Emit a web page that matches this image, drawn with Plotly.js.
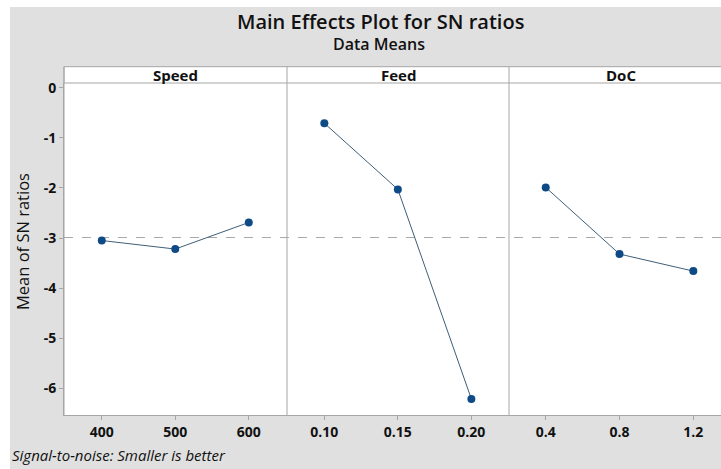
<!DOCTYPE html>
<html>
<head>
<meta charset="utf-8">
<script src="https://cdn.plot.ly/plotly-3.0.1.min.js"></script>
<style>html,body{margin:0;padding:0;background:#fff;overflow:hidden;}</style>
</head>
<body>
<div id="chart" style="width:721px;height:469px;"></div>
<script>
// Data
const factors = ['Speed', 'Feed', 'DoC'];
const speedLevels = [400, 500, 600];
const speedSN = [-3.05, -3.22, -2.69];
const feedLevels = [0.10, 0.15, 0.20];
const feedSN = [-0.71, -2.03, -6.21];
const docLevels = [0.4, 0.8, 1.2];
const docSN = [-1.99, -3.32, -3.66];
const speedTicks = ['400', '500', '600'];
const feedTicks = ['0.10', '0.15', '0.20'];
const docTicks = ['0.4', '0.8', '1.2'];
const yTicks = [0, -1, -2, -3, -4, -5, -6];
const grandMean = -2.99;

const FONT = '"Open Sans", "Noto Sans", sans-serif';
const lineColor = '#3f5f78';
const markerColor = '#0d4a86';
const frameColor = '#a6a6a6';

function trace(x, y, ax) {
  return {
    x: x, y: y, xaxis: ax, yaxis: 'y', type: 'scatter', mode: 'lines+markers',
    line: {color: lineColor, width: 1},
    marker: {color: markerColor, size: 8},
    hoverinfo: 'x+y', showlegend: false
  };
}

const data = [
  trace(speedLevels, speedSN, 'x'),
  trace(feedLevels, feedSN, 'x2'),
  trace(docLevels, docSN, 'x3')
];

const W = 657, H = 332;
const d1 = [0, 223 / W], d2 = [223 / W, 445 / W], d3 = [445 / W, 1];
const stripTop = 1 + 16.3 / H;

function xax(domain, range, vals, texts) {
  return {
    domain: domain, range: range, anchor: 'y',
    tickmode: 'array', tickvals: vals, ticktext: texts,
    ticks: 'outside', ticklen: 4, tickcolor: frameColor, tickwidth: 1,
    showgrid: false, zeroline: false, showline: true, linecolor: frameColor, linewidth: 1,
    tickfont: {family: FONT, size: 14, color: '#111', weight: 'bold'},
    fixedrange: true
  };
}

const layout = {
  width: 721, height: 469,
  margin: {l: 64, r: 0, t: 83, b: 54},
  paper_bgcolor: '#e0e0e0',
  plot_bgcolor: '#ffffff',
  font: {family: FONT, color: '#111'},
  title: {
    text: 'Main Effects Plot for SN ratios',
    font: {family: FONT, size: 20, color: '#111', weight: 600},
    x: 0.528, xanchor: 'center', y: 0.953, yanchor: 'middle'
  },
  xaxis: xax(d1, [348.6, 652], speedLevels, speedTicks),
  xaxis2: xax(d2, [0.0746, 0.2256], feedLevels, feedTicks),
  xaxis3: xax(d3, [0.201, 1.35], docLevels, docTicks),
  yaxis: {
    range: [-6.53, 0.092], tickmode: 'array', tickvals: yTicks,
    ticktext: yTicks.map(String),
    ticks: 'outside', ticklen: 4, tickcolor: frameColor,
    showgrid: false, zeroline: false, showline: true, linecolor: frameColor,
    tickfont: {family: FONT, size: 14, color: '#111', weight: 'bold'},
    fixedrange: true
  },
  shapes: [
    // white outer border (top and left)
    {type: 'rect', xref: 'paper', yref: 'paper', x0: -64 / W, x1: 1.1, y0: 1 + 76 / H, y1: 1 + 90 / H,
      fillcolor: '#ffffff', line: {width: 0}, layer: 'below'},
    {type: 'rect', xref: 'paper', yref: 'paper', x0: -64 / W, x1: -54 / W, y0: -60 / H, y1: 1 + 90 / H,
      fillcolor: '#ffffff', line: {width: 0}, layer: 'below'},
    // strip background
    {type: 'rect', xref: 'paper', yref: 'paper', x0: 0, x1: 1.02, y0: 1, y1: stripTop,
      fillcolor: '#ffffff', line: {color: frameColor, width: 1}},
    // panel separators
    {type: 'line', xref: 'paper', yref: 'paper', x0: d2[0], x1: d2[0], y0: 0, y1: stripTop,
      line: {color: frameColor, width: 1}},
    {type: 'line', xref: 'paper', yref: 'paper', x0: d3[0], x1: d3[0], y0: 0, y1: stripTop,
      line: {color: frameColor, width: 1}},
    {type: 'line', xref: 'paper', yref: 'paper', x0: 0, x1: 0, y0: 0, y1: stripTop,
      line: {color: frameColor, width: 1}},
    // grand mean reference line
    {type: 'line', xref: 'paper', yref: 'y', x0: 0, x1: 1, y0: grandMean, y1: grandMean,
      line: {color: '#a8a8a8', width: 1, dash: 'dash'}, layer: 'below'}
  ],
  annotations: [
    {text: 'Data Means', xref: 'paper', yref: 'paper', x: (379 - 64) / W, y: 1 + 39 / H,
      xanchor: 'center', yanchor: 'middle', showarrow: false,
      font: {family: FONT, size: 16, color: '#111', weight: 600}},
    {text: factors[0], xref: 'paper', yref: 'paper', x: (d1[0] + d1[1]) / 2, y: 1 + 8.2 / H,
      xanchor: 'center', yanchor: 'middle', showarrow: false,
      font: {family: FONT, size: 15, color: '#111', weight: 'bold'}},
    {text: factors[1], xref: 'paper', yref: 'paper', x: (d2[0] + d2[1]) / 2, y: 1 + 8.2 / H,
      xanchor: 'center', yanchor: 'middle', showarrow: false,
      font: {family: FONT, size: 15, color: '#111', weight: 'bold'}},
    {text: factors[2], xref: 'paper', yref: 'paper', x: (445 + 111.5) / W, y: 1 + 8.2 / H,
      xanchor: 'center', yanchor: 'middle', showarrow: false,
      font: {family: FONT, size: 15, color: '#111', weight: 'bold'}},
    {text: 'Mean of SN ratios', xref: 'paper', yref: 'paper', x: -42 / W, y: (415 - 242) / H,
      xanchor: 'center', yanchor: 'middle', textangle: -90, showarrow: false,
      font: {family: FONT, size: 16.5, color: '#111'}},
    {text: '<i>Signal-to-noise: Smaller is better</i>', xref: 'paper', yref: 'paper', x: -54 / W, y: -40 / H,
      xanchor: 'left', yanchor: 'middle', showarrow: false,
      font: {family: FONT, size: 15, color: '#111'}}
  ]
};

Plotly.newPlot('chart', data, layout, {displayModeBar: false, staticPlot: true});
</script>
</body>
</html>
